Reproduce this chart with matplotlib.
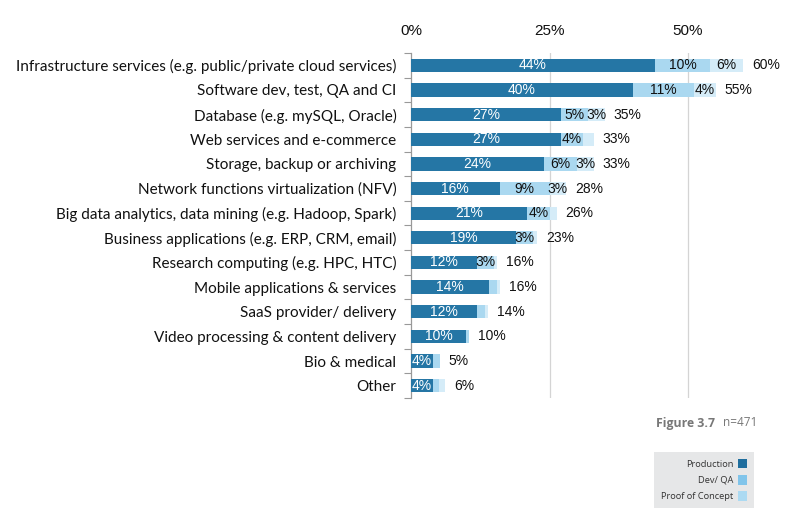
import matplotlib
matplotlib.use("Agg")
import matplotlib.pyplot as plt
from matplotlib.patches import Patch
import numpy as np

categories = [
    "Infrastructure services (e.g. public/private cloud services)",
    "Software dev, test, QA and CI",
    "Database (e.g. mySQL, Oracle)",
    "Web services and e-commerce",
    "Storage, backup or archiving",
    "Network functions virtualization (NFV)",
    "Big data analytics, data mining (e.g. Hadoop, Spark)",
    "Business applications (e.g. ERP, CRM, email)",
    "Research computing (e.g. HPC, HTC)",
    "Mobile applications & services",
    "SaaS provider/ delivery",
    "Video processing & content delivery",
    "Bio & medical",
    "Other",
]
production = [44, 40, 27, 27, 24, 16, 21, 19, 12, 14, 12, 10, 4, 4]
dev_qa = [10, 11, 5, 4, 6, 9, 4, 3, 3, 1.5, 1.3, 0.5, 1.2, 1]
poc = [6, 4, 3, 2, 3, 3, 1.3, 0.8, 0.5, 0.5, 0.6, 0, 0, 1.2]
totals = [60, 55, 35, 33, 33, 28, 26, 23, 16, 16, 14, 10, 5, 6]
xticks = [0, 25, 50]
xtick_labels = ["0%", "25%", "50%"]
series_names = ["Production", "Dev/ QA", "Proof of Concept"]

bar_colors = ["#2576a5", "#aad8f0", "#d5ecf8"]
legend_colors = ["#1f6e9e", "#80c4ea", "#acdaf2"]

W, H = 803, 529
fig = plt.figure(figsize=(W / 100, H / 100), dpi=100)
x0_px, top_px, bot_px = 411, 53, 398
px_per_unit = (688 - 411) / 50.0
xmax = 65
ax = fig.add_axes([x0_px / W, 1 - bot_px / H, xmax * px_per_unit / W, (bot_px - top_px) / H])

y = np.arange(len(categories))
prod = np.array(production, float)
dev = np.array(dev_qa, float)
pc = np.array(poc, float)
bh = 0.54
ax.barh(y, prod, height=bh, color=bar_colors[0], zorder=3)
ax.barh(y, dev, left=prod, height=bh, color=bar_colors[1], zorder=3)
ax.barh(y, pc, left=prod + dev, height=bh, color=bar_colors[2], zorder=3)

vfont = dict(family=["Liberation Sans", "DejaVu Sans"], fontsize=10)
for i in range(len(categories)):
    ax.text(prod[i] / 2, y[i], f"{production[i]:g}%", ha="center", va="center",
            color="white", zorder=4, **vfont)
    if dev[i] >= 3:
        ax.text(prod[i] + dev[i] / 2, y[i], f"{dev_qa[i]:g}%", ha="center", va="center",
                color="#111111", zorder=4, **vfont)
    if pc[i] >= 3:
        ax.text(prod[i] + dev[i] + pc[i] / 2, y[i], f"{poc[i]:g}%", ha="center", va="center",
                color="#111111", zorder=4, **vfont)
    end = prod[i] + dev[i] + pc[i]
    ax.text(end + 1.6, y[i], f"{totals[i]}%", ha="left", va="center",
            color="#111111", clip_on=False, zorder=4, **vfont)

ax.set_xlim(0, xmax)
ax.set_ylim(len(categories) - 0.5, -0.5)
ax.set_yticks(y)
ax.set_yticklabels(categories, family=["Lato", "DejaVu Sans"], fontsize=11, color="#111111")
ax.tick_params(axis="y", which="major", length=0, pad=10.5)
ax.set_yticks(np.arange(-0.5, len(categories), 1.0), minor=True)
ax.tick_params(axis="y", which="minor", length=5, width=0.8, color="#999999", direction="out")

ax.xaxis.tick_top()
ax.set_xticks(xticks)
ax.set_xticklabels(xtick_labels, family=["Liberation Sans", "DejaVu Sans"], fontsize=11, color="#111111")
ax.tick_params(axis="x", length=0, pad=11)

for s in ["top", "right", "bottom"]:
    ax.spines[s].set_visible(False)
ax.spines["left"].set_color("#999999")
ax.spines["left"].set_linewidth(0.9)
for xv in xticks[1:]:
    ax.axvline(xv, color="#d4d4d4", lw=0.9, zorder=1)

fig.text(757 / W, 1 - 423 / H, "n=471", ha="right", va="center", color="#777777",
         family=["Open Sans", "DejaVu Sans"], fontsize=8.5)
fig.text(715 / W, 1 - 423 / H, "Figure 3.7", ha="right", va="center", color="#777777",
         family=["Open Sans", "DejaVu Sans"], fontsize=8.8, fontweight="bold")

handles = [Patch(facecolor=c, edgecolor="none") for c in legend_colors]
leg = fig.legend(handles, series_names, loc="upper right",
                 bbox_to_anchor=(759 / W, 1 - 447 / H), markerfirst=False,
                 frameon=True, fancybox=False, framealpha=1,
                 prop={"family": ["Open Sans", "DejaVu Sans"], "size": 6.7},
                 handlelength=1.0, handleheight=1.2, handletextpad=0.5,
                 labelspacing=0.7, borderpad=0.75, alignment="right")
leg.get_frame().set_facecolor("#e6e7e8")
leg.get_frame().set_edgecolor("none")
for t in leg.get_texts():
    t.set_color("#333333")

fig.savefig("out.png", dpi=100)
